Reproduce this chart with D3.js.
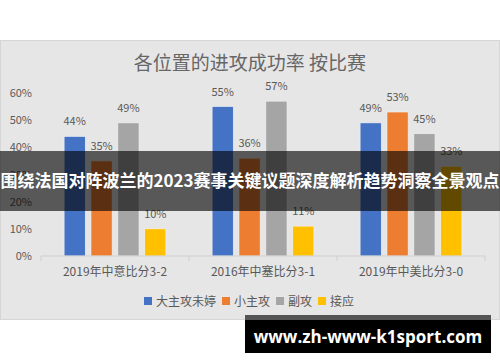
<!DOCTYPE html>
<html>
<head>
<meta charset="utf-8">
<script src="https://cdn.jsdelivr.net/npm/d3@7"></script>
<style>
  body { margin: 0; background: #fff; }
  svg { display: block; font-family: "Noto Sans CJK SC", "Noto Sans", sans-serif; }
</style>
</head>
<body>
<div id="chart"></div>
<script>
// Data
var matches = ["2019年中意比分3-2", "2016年中塞比分3-1", "2019年中美比分3-0"];
var series = ["大主攻未婷", "小主攻", "副攻", "接应"];
var colors = ["#4472C4", "#ED7D31", "#A5A5A5", "#FFC000"];
var values = [
  [0.44, 0.35, 0.49, 0.10],
  [0.55, 0.36, 0.57, 0.11],
  [0.49, 0.53, 0.45, 0.33]
];
var yTicks = [0, 0.1, 0.2, 0.3, 0.4, 0.5, 0.6];

var width = 500, height = 362;
var textColor = "#595959";

var svg = d3.select("#chart").append("svg")
  .attr("width", width)
  .attr("height", height);

svg.append("rect").attr("width", width).attr("height", height).attr("fill", "#fff");

// chart panel
svg.append("rect")
  .attr("x", 0.5).attr("y", 40.5)
  .attr("width", 499).attr("height", 279)
  .attr("fill", "#e6e6e6")
  .attr("stroke", "#d6d6d6");

svg.append("text")
  .attr("x", 250).attr("y", 70)
  .attr("text-anchor", "middle")
  .attr("font-size", 19)
  .attr("fill", "#666")
  .text("各位置的进攻成功率 按比赛");

// scales
var x0 = d3.scaleBand().domain(matches).range([41, 485]);
var x1 = d3.scaleBand().domain(series).range([0, x0.bandwidth()])
  .paddingInner(0.213).paddingOuter(0.86);
var y = d3.scaleLinear().domain([0, 0.6]).range([256, 93]);

// y labels
svg.append("g").selectAll("text")
  .data(yTicks)
  .enter().append("text")
    .attr("x", 32)
    .attr("y", function(d) { return y(d) + 4; })
    .attr("text-anchor", "end")
    .attr("font-size", 11)
    .attr("fill", textColor)
    .text(d3.format(".0%"));

// bars
var groups = svg.append("g").selectAll("g")
  .data(matches)
  .enter().append("g")
    .attr("transform", function(d) { return "translate(" + x0(d) + ",0)"; });

groups.selectAll("rect")
  .data(function(d, i) { return values[i].map(function(v, j) { return {s: series[j], v: v, c: colors[j]}; }); })
  .enter().append("rect")
    .attr("x", function(d) { return x1(d.s); })
    .attr("y", function(d) { return y(d.v); })
    .attr("width", x1.bandwidth())
    .attr("height", function(d) { return y(0) - y(d.v); })
    .attr("fill", function(d) { return d.c; })
    .attr("stroke", "#f2f2f2")
    .attr("stroke-width", 0.6);

groups.selectAll("text")
  .data(function(d, i) { return values[i].map(function(v, j) { return {s: series[j], v: v}; }); })
  .enter().append("text")
    .attr("x", function(d) { return x1(d.s) + x1.bandwidth() / 2; })
    .attr("y", function(d) { return y(d.v) - 11; })
    .attr("text-anchor", "middle")
    .attr("font-size", 11)
    .attr("fill", textColor)
    .text(function(d) { return d3.format(".0%")(d.v); });

// x axis
var xAxis = svg.append("g").attr("transform", "translate(0," + y(0) + ")");
xAxis.append("line")
  .attr("x1", 41).attr("x2", 485)
  .attr("stroke", "#cfcfcf");
xAxis.selectAll("line.tick")
  .data(matches.map(function(m) { return x0(m); }).concat([485]))
  .enter().append("line")
    .attr("class", "tick")
    .attr("x1", function(d) { return d; }).attr("x2", function(d) { return d; })
    .attr("y1", 0).attr("y2", 5)
    .attr("stroke", "#cfcfcf");
xAxis.selectAll("text")
  .data(matches)
  .enter().append("text")
    .attr("x", function(d) { return x0(d) + x0.bandwidth() / 2; })
    .attr("y", 20)
    .attr("text-anchor", "middle")
    .attr("font-size", 12)
    .attr("fill", textColor)
    .text(function(d) { return d; });

// legend
var legend = svg.append("g").attr("transform", "translate(0,301)");
var lx = 144;
series.forEach(function(s, i) {
  legend.append("rect")
    .attr("x", lx).attr("y", -4)
    .attr("width", 8).attr("height", 8)
    .attr("fill", colors[i]);
  var t = legend.append("text")
    .attr("x", lx + 12).attr("y", 4.5)
    .attr("font-size", 12)
    .attr("fill", textColor)
    .text(s);
  lx += 12 + t.node().getComputedTextLength() + 6;
});

// overlay banner
svg.append("rect")
  .attr("x", 0).attr("y", 151)
  .attr("width", width).attr("height", 60)
  .attr("fill", "#000").attr("fill-opacity", 0.62);
svg.append("text")
  .attr("x", 250).attr("y", 187)
  .attr("text-anchor", "middle")
  .attr("font-size", 17)
  .attr("font-weight", "bold")
  .attr("fill", "#fff")
  .text("围绕法国对阵波兰的2023赛事关键议题深度解析趋势洞察全景观点");

// watermark
svg.append("rect")
  .attr("x", 245).attr("y", 315)
  .attr("width", 246).attr("height", 5)
  .attr("fill", "#555");
svg.append("rect")
  .attr("x", 245).attr("y", 320)
  .attr("width", 246).attr("height", 33)
  .attr("fill", "#000");
svg.append("text")
  .attr("x", 368).attr("y", 343)
  .attr("text-anchor", "middle")
  .attr("font-family", "'Open Sans', 'Noto Sans', sans-serif")
  .attr("font-size", 17)
  .attr("font-weight", "bold")
  .attr("fill", "#fff")
  .text("www.zh-www-k1sport.com");
</script>
</body>
</html>
